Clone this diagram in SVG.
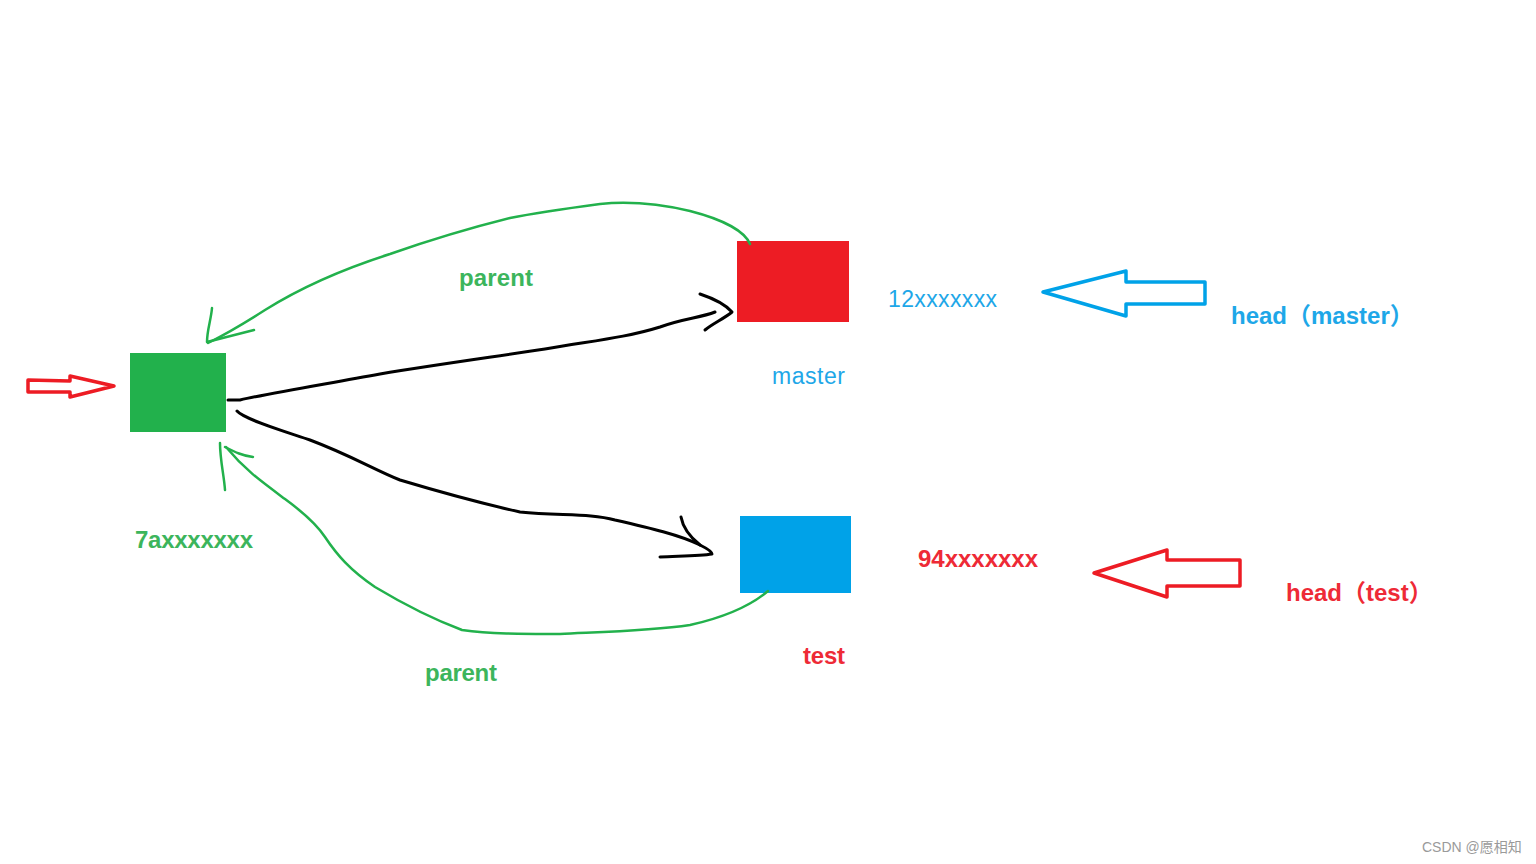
<svg xmlns="http://www.w3.org/2000/svg" width="1536" height="864" viewBox="0 0 1536 864">
<style>
.t{font-family:"Liberation Sans","Noto Sans CJK SC",sans-serif;font-size:23px}
.b{font-weight:bold;font-size:24px}
.g{fill:#3cb55c}.bl{fill:#1ea7e8}.r{fill:#ee2a36}
.gc{fill:none;stroke:#22b14c;stroke-width:2.5;stroke-linecap:round;stroke-linejoin:round}
.kc{fill:none;stroke:#000;stroke-width:3;stroke-linecap:round;stroke-linejoin:round}
</style>
<rect width="1536" height="864" fill="#fff"/>
<g id="commit-7a"><rect x="130" y="353" width="96" height="79" fill="#22b14c"/></g>
<g id="commit-12"><rect x="737" y="241" width="112" height="81" fill="#ed1c24"/></g>
<g id="commit-94"><rect x="740" y="516" width="111" height="77" fill="#00a2e8"/></g>
<g id="connectors">
<path class="gc" d="M750,244 C745,232 725,220 690,211 C660,204 630,201 600,204 C570,208 540,212 510,218 C470,228 430,240 390,254 C340,270 300,288 265,310 C240,326 222,336 208,343"/>
<path class="gc" d="M212,308 C211,320 207,330 207,342 L254,330"/>
<path class="kc" d="M228,400 L240,400 C270,393 320,385 380,374 C440,364 500,356 545,349 C590,341 625,338 660,327 C685,318 700,318 715,312"/>
<path class="kc" d="M700,294 C712,298 725,304 732,312 C725,318 712,324 705,330"/>
<path class="kc" d="M237,411 C245,420 290,433 310,440 C350,455 375,470 400,480 C440,492 480,503 520,512 C560,516 590,513 615,520 C650,528 680,535 700,545 C708,549 712,552 712,554 C700,556 680,556 660,557"/>
<path class="kc" d="M681,517 C683,528 690,537 700,545"/>
<path class="gc" d="M768,591 C755,602 730,616 690,625 C650,631 600,632 560,634 C520,634 490,634 462,630 C430,618 400,602 375,587 C350,570 337,555 325,537 C315,522 300,510 285,499 C262,482 245,470 226,447"/>
<path class="gc" d="M220,443 C220,460 224,475 225,490"/>
<path class="gc" d="M225,447 C235,452 243,456 253,457"/>
<polygon points="28,380 70,381 70,376 114,386 70,397 70,392 28,392" fill="none" stroke="#ed1c24" stroke-width="3.5" stroke-linejoin="round"/>
<polygon points="1043,292 1126,271 1126,282 1205,282 1205,304 1126,304 1126,316" fill="none" stroke="#00a2e8" stroke-width="3.5" stroke-linejoin="round"/>
<polygon points="1094,573 1167,550 1167,560 1240,560 1240,586 1167,586 1167,597" fill="none" stroke="#ed1c24" stroke-width="3.5" stroke-linejoin="round"/>
</g>
<g id="labels">
<text class="t b g" x="459" y="286" textLength="74">parent</text>
<text class="t bl" x="888" y="307" textLength="109">12xxxxxxx</text>
<text class="t b bl" x="1231" y="324">head（master）</text>
<text class="t bl" x="772" y="384" textLength="73">master</text>
<text class="t b g" x="135" y="548" textLength="118">7axxxxxxx</text>
<text class="t b r" x="918" y="567" textLength="120">94xxxxxxx</text>
<text class="t b r" x="1286" y="601">head（test）</text>
<text class="t b r" x="803" y="664" textLength="42">test</text>
<text class="t b g" x="425" y="681" textLength="72">parent</text>
<text x="1422" y="852" style="font-family:'Liberation Sans','Noto Sans CJK SC',sans-serif;font-size:14px;fill:#9a9a9a">CSDN @愿相知</text>
</g>
</svg>
